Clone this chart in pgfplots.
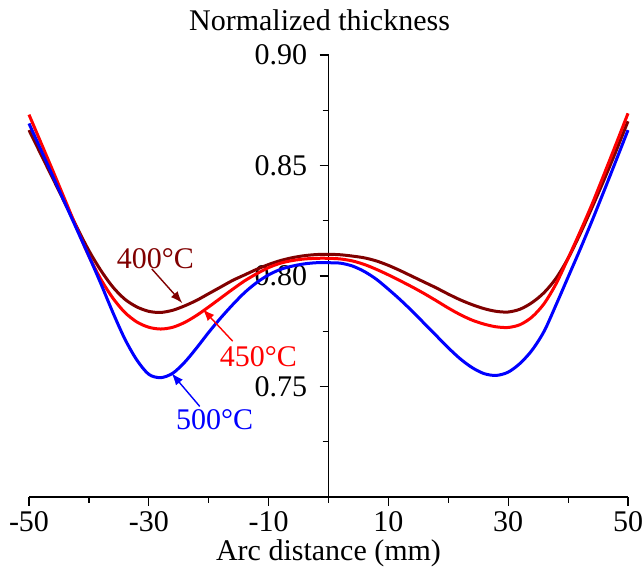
\documentclass[border=0pt]{standalone}
\usepackage{fontspec}
\setmainfont{Liberation Serif}
\usepackage{pgfplots}
\pgfplotsset{compat=1.18}
\usetikzlibrary{arrows.meta}
\definecolor{darkred}{RGB}{128,0,0}
\begin{document}
\fontsize{15}{18}\selectfont
\begin{tikzpicture}
\begin{axis}[
  scale only axis, width=299.5pt, height=221pt,
  xmin=-50, xmax=50, ymin=0.70, ymax=0.90,
  axis x line=bottom, axis y line=middle,
  axis line style={-, line width=0.6pt, black},
  every tick/.style={black, line width=0.6pt},
  tick align=outside,
  major tick length=4.5pt, minor tick length=3pt,
  xtick={-50,-30,-10,10,30,50},
  xticklabels={-50,-30,-10,10,30,50},
  minor xtick={-40,-20,0,20,40},
  ytick={0.75,0.80,0.85,0.90},
  yticklabels={0.75,0.80,0.85,0.90},
  minor ytick={0.725,0.775,0.825,0.875},
  yticklabel style={anchor=east, xshift=-1pt},
  xticklabel style={anchor=base, yshift=-12.8pt, inner sep=0.5pt},
  xlabel={Arc distance (mm)},
  every axis x label/.style={at={(axis description cs:0.5,0)}, anchor=base, yshift=-32pt, inner sep=0.5pt},
  ylabel={Normalized thickness},
  every axis y label/.style={at={(axis description cs:0.485,1)}, anchor=base, yshift=12pt},
  clip=false,
]
\coordinate (bl) at (rel axis cs:0,0);
\coordinate (tr) at (rel axis cs:1,1);
\addplot[darkred, line width=1.5pt, smooth] coordinates {
(-50,0.866) (-46,0.844) (-42,0.822) (-40,0.8115) (-38,0.8025) (-36,0.7950) (-34,0.7895)
(-32,0.7860) (-30,0.7840) (-28,0.7835) (-26,0.7845) (-24,0.7865) (-22,0.7890) (-20,0.7920)
(-18,0.7950) (-16,0.7980) (-14,0.8005) (-12,0.8030) (-10,0.8052) (-8,0.8070) (-6,0.8083)
(-4,0.8092) (-2,0.8097) (0,0.8098) (2,0.8096) (4,0.8090) (6,0.8082) (8,0.8068) (10,0.8048)
(12,0.8024) (14,0.7998) (16,0.7972) (18,0.7946) (20,0.7918) (22,0.7892) (24,0.7870)
(26,0.7852) (28,0.7840) (30,0.7837) (32,0.7850) (34,0.7880) (36,0.7925) (38,0.7990)
(40,0.8080) (42,0.8190) (44,0.8310) (46,0.8435) (48,0.8565) (50,0.8700)};
\addplot[red, line width=1.5pt, smooth] coordinates {
(-50,0.8730) (-46,0.8475) (-42,0.8215) (-40,0.8090) (-38,0.7985) (-36,0.7900) (-34,0.7835)
(-32,0.7792) (-30,0.7768) (-28,0.7760) (-26,0.7768) (-24,0.7790) (-22,0.7822) (-20,0.7860)
(-18,0.7900) (-16,0.7940) (-14,0.7978) (-12,0.8010) (-10,0.8038) (-8,0.8058) (-6,0.8070)
(-4,0.8077) (-2,0.8080) (0,0.8080) (2,0.8077) (4,0.8068) (6,0.8052) (8,0.8030) (10,0.8005)
(12,0.7978) (14,0.7950) (16,0.7920) (18,0.7888) (20,0.7855) (22,0.7825) (24,0.7800)
(26,0.7782) (28,0.7770) (30,0.7767) (32,0.7780) (34,0.7815) (36,0.7875) (38,0.7965)
(40,0.8080) (42,0.8200) (44,0.8325) (46,0.8460) (48,0.8597) (50,0.8736)};
\addplot[blue, line width=1.5pt, smooth] coordinates {
(-50,0.8690) (-46,0.8450) (-42,0.8210) (-40,0.8090) (-38,0.7965) (-36,0.7835) (-34,0.7715)
(-32,0.7620) (-30,0.7555) (-28,0.7540) (-26,0.7560) (-24,0.7610) (-22,0.7675) (-20,0.7745)
(-18,0.7810) (-16,0.7870) (-14,0.7925) (-12,0.7970) (-10,0.8005) (-8,0.8030) (-6,0.8045)
(-4,0.8055) (-2,0.8060) (0,0.8060) (2,0.8058) (4,0.8045) (6,0.8020) (8,0.7985) (10,0.7940)
(12,0.7892) (14,0.7840) (16,0.7785) (18,0.7730) (20,0.7675) (22,0.7625) (24,0.7585)
(26,0.7558) (28,0.7550) (30,0.7565) (32,0.7605) (34,0.7665) (36,0.7750) (38,0.7870)
(40,0.7995) (42,0.8120) (44,0.8250) (46,0.8385) (48,0.8522) (50,0.8660)};
\node[darkred] at (axis cs:-28.9,0.8077) {400°C};
\node[red] at (axis cs:-11.7,0.7636) {450°C};
\node[blue] at (axis cs:-19.0,0.735) {500°C};
\draw[darkred, line width=0.7pt, -{Latex[length=6pt,width=4.5pt]}] (axis cs:-29.5,0.8032) -- (axis cs:-24.4,0.7877);
\draw[red, line width=0.7pt, -{Latex[length=6pt,width=4.5pt]}] (axis cs:-16.0,0.7705) -- (axis cs:-21.0,0.785);
\draw[blue, line width=0.7pt, -{Latex[length=6pt,width=4.5pt]}] (axis cs:-21.5,0.741) -- (axis cs:-26.2,0.756);
\end{axis}
\pgfresetboundingbox
\path ([shift={(-14.5pt,-36.5pt)}]bl) rectangle ([shift={(8pt,27.5pt)}]tr);
\end{tikzpicture}
\end{document}
